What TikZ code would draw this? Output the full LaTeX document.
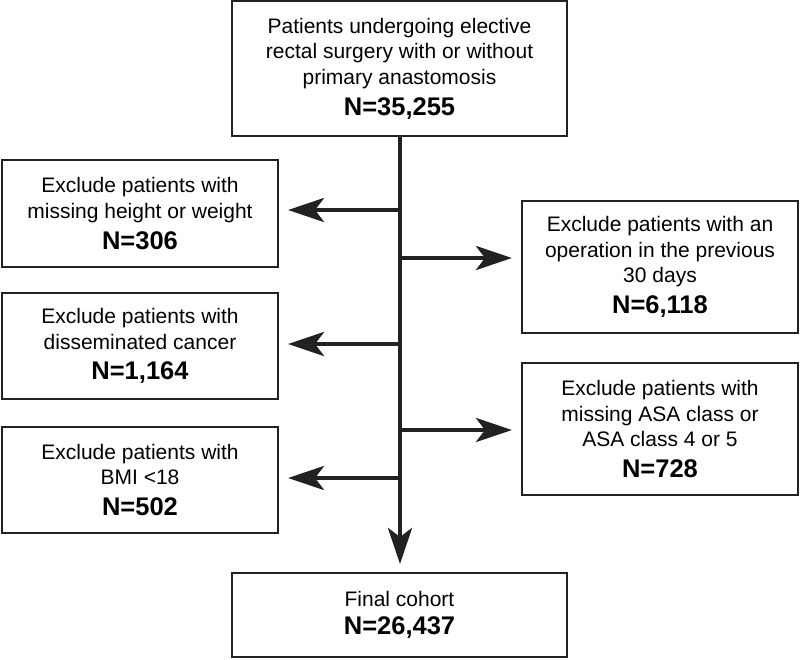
\documentclass[tikz,border=0pt]{standalone}
\usepackage{fontspec}
\setmainfont{Liberation Sans}
\usetikzlibrary{arrows.meta}
\definecolor{ink}{HTML}{222222}
\tikzset{
  box/.style={draw=ink, line width=2pt, fill=white, inner sep=0pt, align=center,
    font=\fontsize{21}{25.7}\selectfont, text=black},
  flow/.style={draw=ink, line width=4.5pt,
    -{Stealth[length=36pt,width=24pt,inset=9pt]}},
}
\newcommand{\nval}[1]{{\fontsize{25.5}{30}\selectfont\bfseries #1}}
\begin{document}
\begin{tikzpicture}[x=1pt,y=-1pt]
\useasboundingbox (0,0) rectangle (800,659);
\node[box, minimum width=335pt, minimum height=135pt] (top) at (399.5,68.5)
  {Patients undergoing elective\\rectal surgery with or without\\primary anastomosis\\[5pt]\nval{N=35,255}};
\node[box, minimum width=276pt, minimum height=107pt] (L1) at (140,213.5)
  {Exclude patients with\\missing height or weight\\[5pt]\nval{N=306}};
\node[box, minimum width=276pt, minimum height=106pt] (L2) at (140,346)
  {Exclude patients with\\disseminated cancer\\[5pt]\nval{N=1,164}};
\node[box, minimum width=276pt, minimum height=106pt] (L3) at (140,480)
  {Exclude patients with\\BMI <18\\[5pt]\nval{N=502}};
\node[box, minimum width=276pt, minimum height=132pt] (R1) at (660,267)
  {Exclude patients with an\\operation in the previous\\30 days\\[5pt]\nval{N=6,118}};
\node[box, minimum width=276pt, minimum height=132pt] (R2) at (660,429)
  {Exclude patients with\\missing ASA class or\\ASA class 4 or 5\\[5pt]\nval{N=728}};
\node[box, minimum width=335pt, minimum height=84pt] (final) at (399.5,615)
  {Final cohort\\[2pt]\nval{N=26,437}};
\coordinate (s1) at (400,210);
\coordinate (s2) at (400,258);
\coordinate (s3) at (400,344);
\coordinate (s4) at (400,430);
\coordinate (s5) at (400,478);
\draw[flow, shorten >=8pt] (top.south -| s1) -- (final.north -| s1);
\draw[flow, shorten >=9pt] (s1) -- (s1 -| L1.east);
\draw[flow, shorten >=9pt] (s2) -- (s2 -| R1.west);
\draw[flow, shorten >=9pt] (s3) -- (s3 -| L2.east);
\draw[flow, shorten >=9pt] (s4) -- (s4 -| R2.west);
\draw[flow, shorten >=9pt] (s5) -- (s5 -| L3.east);
\end{tikzpicture}
\end{document}
